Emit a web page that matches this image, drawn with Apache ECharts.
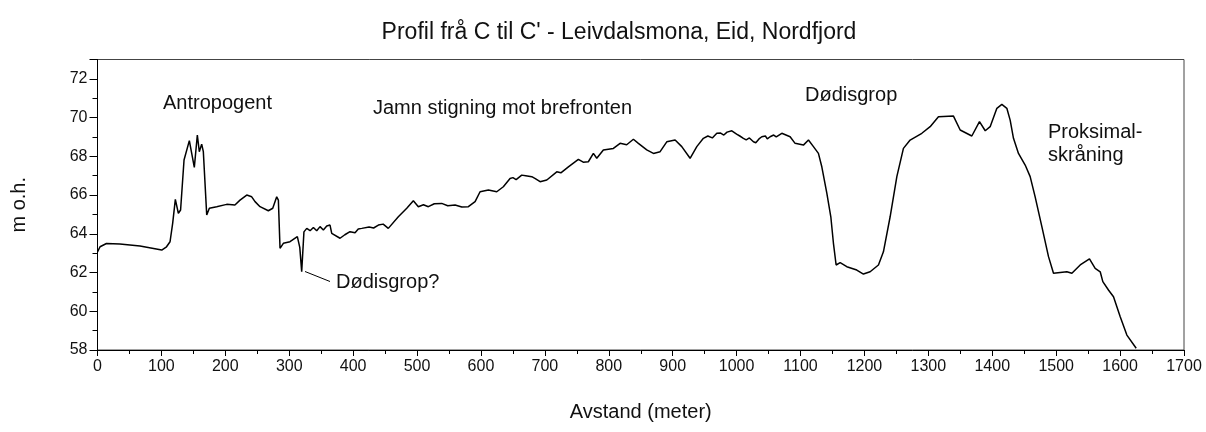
<!DOCTYPE html>
<html>
<head>
<meta charset="utf-8">
<script src="https://cdn.jsdelivr.net/npm/echarts@6/dist/echarts.min.js"></script>
<style>html,body{margin:0;padding:0;background:#fff;}#c{width:1206px;height:432px;}</style>
</head>
<body>
<div id="c"></div>
<script>
const distance = [0,4,14,35,66.5,100.5,108,113.5,117.6,121.8,126.5,130,135.4,143.7,147.4,151.5,156.2,159.3,163,165.6,170.9,175,186.5,202.2,215,223,233.5,241.3,246.5,254.3,267.3,274.2,280.4,283,285.6,290.8,301.2,312.7,314.3,316.5,319.5,323,327.4,332.6,337.8,343,348.2,353.4,358.7,363.8,366.5,379.5,387,390,395.1,403,408,413.5,425,432,439.5,447,455,470.7,483.9,494.2,502,510,517.7,527,538.6,548,559.5,570,580.3,590.8,598.6,611.6,624.7,635,645.5,650,655,663.8,670,679.5,685,692.5,703,718.6,725,736.8,752.4,760,768,775.9,781.2,791.5,807.2,817.7,828,838.5,846.3,859.4,869.8,880.3,890.7,903.8,914.2,927.2,937.7,948,955,962,969,975,980,985,992.5,1000,1005,1010.6,1015,1020,1026.3,1030,1035,1039.4,1045,1048,1052.4,1058,1062,1070.7,1083.7,1091.5,1104.5,1112.4,1120.2,1128,1133.3,1141.2,1147.4,1151.5,1155.7,1162,1172.4,1188,1198.4,1208.9,1221.9,1229.7,1240.2,1250.7,1261,1271.5,1289.8,1302.8,1315.8,1339.3,1349.8,1368,1380,1389,1396.7,1407.2,1415,1422.8,1428,1433.2,1441,1451.5,1459.3,1467.1,1477.6,1488,1495.8,1516.7,1524.6,1537.6,1552.1,1561,1568.9,1573,1581.8,1589.7,1600.2,1610.6,1625.2];
const elevation = [63.07,63.33,63.5,63.47,63.37,63.16,63.33,63.59,64.54,65.78,65.06,65.23,67.81,68.81,68.15,67.43,69.1,68.24,68.63,68.24,64.97,65.32,65.4,65.52,65.49,65.74,66.0,65.91,65.66,65.4,65.19,65.32,65.91,65.74,63.25,63.51,63.59,63.85,63.85,63.3,62.04,64.1,64.28,64.16,64.33,64.16,64.37,64.2,64.4,64.45,64.02,63.77,63.95,63.85,64.11,64.05,64.25,64.28,64.35,64.3,64.45,64.5,64.28,64.88,65.32,65.71,65.4,65.5,65.4,65.55,65.57,65.45,65.49,65.38,65.4,65.66,66.17,66.26,66.17,66.43,66.86,66.9,66.8,67.03,67.0,66.95,66.85,66.69,66.78,67.2,67.15,67.46,67.84,67.7,67.72,68.15,67.9,68.33,68.41,68.67,68.6,68.88,68.67,68.33,68.15,68.24,68.75,68.84,68.5,67.9,68.5,68.93,69.05,68.95,69.19,69.2,69.1,69.25,69.32,69.15,69.05,68.93,68.85,68.95,68.75,68.7,68.9,69.01,69.05,68.9,69.01,69.1,69.0,69.19,69.01,68.67,68.58,68.84,68.5,68.15,67.46,66.09,64.88,63.51,62.39,62.51,62.3,62.13,61.92,62.04,62.39,63.07,64.88,66.95,68.41,68.84,69.19,69.53,70.04,70.08,69.36,69.05,69.79,69.32,69.53,70.48,70.68,70.48,69.87,68.93,68.15,67.55,66.95,65.91,64.37,62.82,61.96,62.04,61.96,62.39,62.7,62.22,62.04,61.53,61.1,60.75,59.72,58.77,58.09];
const titleText = "Profil frå C til C' - Leivdalsmona, Eid, Nordfjord";
const xName = 'Avstand (meter)';
const yName = 'm o.h.';
const notes = ['Antropogent','Jamn stigning mot brefronten','Dødisgrop','Proksimal-\nskråning','Dødisgrop?'];

const font = 'Arial, "Liberation Sans", sans-serif';
const chart = echarts.init(document.getElementById('c'), null, {renderer:'canvas'});
const pts = distance.map((d,i)=>[d, elevation[i]]);
chart.setOption({
  animation:false,
  backgroundColor:'#fff',
  title:{text:titleText, left:614, top:16, textAlign:'center',
    textStyle:{fontFamily:font, fontSize:23, fontWeight:'normal', color:'#111'}},
  grid:{left:97.5, right:22, top:59.5, bottom:82, show:true, borderColor:'#444', borderWidth:1},
  xAxis:{type:'value', min:0, max:1700, interval:100,
    name:xName, nameLocation:'middle', nameGap:52,
    nameTextStyle:{fontFamily:font, fontSize:20, color:'#111'},
    axisLine:{onZero:false, lineStyle:{color:'#000', width:1}},
    axisTick:{inside:false, length:6, lineStyle:{color:'#000'}},
    minorTick:{show:true, splitNumber:2, length:4, lineStyle:{color:'#000'}},
    axisLabel:{fontFamily:font, fontSize:16, color:'#111', margin:9, formatter:(v)=>String(v)},
    splitLine:{show:false}},
  yAxis:{type:'value', min:58, max:73, interval:2,
    name:yName, nameLocation:'middle', nameGap:68, nameRotate:90,
    nameTextStyle:{fontFamily:font, fontSize:20, color:'#111'},
    axisLine:{onZero:false, lineStyle:{color:'#000', width:1}},
    axisTick:{inside:false, length:8, lineStyle:{color:'#000'}},
    minorTick:{show:true, splitNumber:2, length:5, lineStyle:{color:'#000'}},
    axisLabel:{fontFamily:font, fontSize:16, color:'#111', margin:10, showMaxLabel:false},
    splitLine:{show:false}},
  series:[{type:'line', data:pts, showSymbol:false, symbol:'none',
    lineStyle:{color:'#000', width:1.5}, z:3}],
  graphic:[
    {type:'text', left:163, top:93, style:{text:notes[0], font:'20px '+font, fill:'#111'}},
    {type:'text', left:373, top:98, style:{text:notes[1], font:'20px '+font, fill:'#111'}},
    {type:'text', left:805, top:85, style:{text:notes[2], font:'20px '+font, fill:'#111'}},
    {type:'text', left:1048, top:121, style:{text:notes[3], font:'20px '+font, fill:'#111', lineHeight:23}},
    {type:'text', left:336, top:272, style:{text:notes[4], font:'20px '+font, fill:'#111'}},
    {type:'line', shape:{x1:305, y1:271.5, x2:330, y2:281.5}, style:{stroke:'#000', lineWidth:1}}
  ]
});
</script>
</body>
</html>
